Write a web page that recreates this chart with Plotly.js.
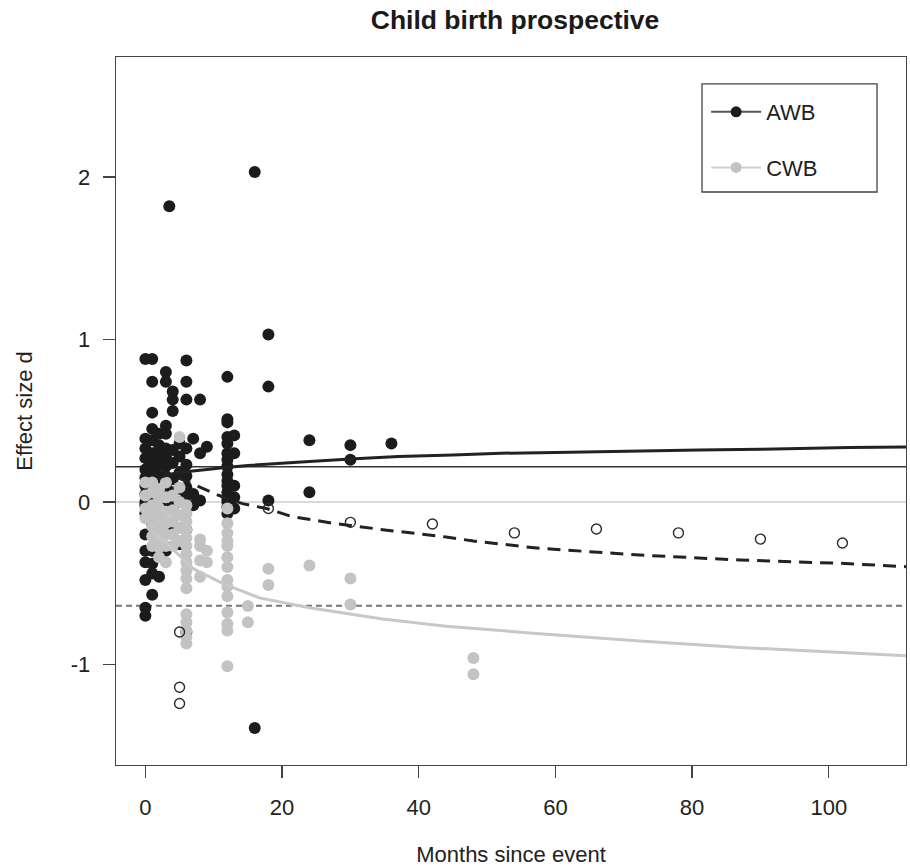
<!DOCTYPE html>
<html>
<head>
<meta charset="utf-8">
<script src="https://cdn.plot.ly/plotly-3.0.1.min.js"></script>
<style>html,body{margin:0;padding:0;background:#fff;}#chart{width:910px;height:867px;}</style>
</head>
<body>
<div id="chart"></div>
<script>
// ---- AWB (filled black) points ----
var awbMonths = [
  0,0,0,0,0,0,0,0,0,0,0,0,0,0,0,0,0,
  1,1,1,1,1,1,1,1,1,1,1,1,1,1,1,1,
  2,2,2,2,2,2,2,2,2,2,2,2,2,
  3.5,3,3,3,3,3,3,3,3,3,3,3,3,
  4,4,4,4,4,4,4,4,4,
  5,5,5,5,5,5,
  6,6,6,6,6,6,6,6,6,6,
  7,7,7,
  8,8,8,
  9,
  12,12,12,12,12,12,12,12,12,12,12,12,12,12,12,12,
  13,13,13,13,13,
  16,16,
  18,18,18,
  24,24,
  30,30,
  36
];
var awbEffect = [
  0.88,0.39,0.33,0.27,0.20,0.15,0.10,0.05,0.00,-0.02,-0.07,-0.20,-0.30,-0.37,-0.48,-0.65,-0.70,
  0.88,0.74,0.55,0.45,0.38,0.30,0.24,0.18,0.12,0.06,0.00,-0.13,-0.30,-0.38,-0.44,-0.57,
  0.42,0.35,0.30,0.26,0.22,0.17,0.12,0.05,-0.02,-0.10,-0.22,-0.29,-0.46,
  1.82,0.80,0.74,0.47,0.42,0.33,0.28,0.22,0.16,0.10,0.04,-0.04,-0.30,
  0.68,0.63,0.56,0.32,0.24,0.14,0.06,-0.03,-0.18,
  0.36,0.28,0.18,0.08,0.00,-0.26,
  0.87,0.74,0.63,0.33,0.23,0.16,0.09,0.04,-0.17,-0.80,
  0.39,0.05,-0.02,
  0.63,0.30,0.01,
  0.34,
  0.77,0.51,0.49,0.40,0.36,0.30,0.26,0.22,0.17,0.13,0.10,0.06,0.02,0.00,-0.03,-0.07,
  0.41,0.30,0.10,0.03,-0.04,
  2.03,-1.39,
  1.03,0.71,0.01,
  0.38,0.06,
  0.35,0.26,
  0.36
];

// ---- CWB (filled grey) points ----
var cwbMonths = [
  0,0,0,0,
  1,1,1,1,1,1,1,
  2,2,2,2,2,2,2,2,
  3,3,3,3,3,3,3,
  4,4,4,4,4,
  5,5,5,5,5,5,
  6,6,6,6,6,6,6,6,6,6,6,6,6,6,6,6,
  8,8,8,8,
  9,9,
  12,12,12,12,12,12,12,12,12,12,12,12,12,12,
  15,15,
  18,18,
  24,
  30,30,
  48,48
];
var cwbEffect = [
  0.12,0.04,-0.04,-0.10,
  0.12,0.06,-0.02,-0.08,-0.15,-0.21,-0.27,
  0.08,0.02,-0.04,-0.10,-0.16,-0.22,-0.28,-0.34,
  0.12,0.03,-0.06,-0.13,-0.20,-0.27,-0.37,
  0.04,-0.05,-0.12,-0.20,-0.27,
  0.40,0.09,0.00,-0.08,-0.16,-0.24,
  -0.02,-0.07,-0.12,-0.17,-0.22,-0.27,-0.32,-0.37,-0.42,-0.47,-0.53,-0.69,-0.74,-0.79,-0.83,-0.87,
  -0.23,-0.27,-0.36,-0.46,
  -0.30,-0.37,
  -0.04,-0.13,-0.19,-0.24,-0.27,-0.34,-0.40,-0.48,-0.52,-0.58,-0.68,-0.75,-0.79,-1.01,
  -0.64,-0.74,
  -0.41,-0.51,
  -0.39,
  -0.47,-0.63,
  -0.96,-1.06
];

// ---- open circles ----
var openMonths = [5,5,5,18,30,42,54,66,78,90,102];
var openEffect = [-0.80,-1.14,-1.24,-0.04,-0.125,-0.135,-0.19,-0.166,-0.19,-0.228,-0.252];

// ---- fitted curves ----
var awbFitMonths = [2,4.5,8,11,15,20,24,30,37,45,52,60,66,75,81,90,96,103,111.3];
var awbFitEffect = [0.15,0.18,0.195,0.21,0.225,0.24,0.25,0.265,0.28,0.29,0.30,0.305,0.31,0.315,0.32,0.325,0.33,0.335,0.338];

var awbDashMonths = [2,4.5,8,10.8,14.2,17.7,21.5,27.4,34.7,44,48,57.7,72.3,87,101.6,111.3];
var awbDashEffect = [0.20,0.155,0.09,0.04,-0.01,-0.04,-0.09,-0.13,-0.17,-0.215,-0.24,-0.285,-0.326,-0.357,-0.377,-0.398];

var cwbFitMonths = [1,3,7,11.3,16.7,24,34.7,44,57.7,72.3,87,101.6,111.3];
var cwbFitEffect = [-0.18,-0.25,-0.41,-0.50,-0.59,-0.65,-0.72,-0.765,-0.81,-0.855,-0.895,-0.928,-0.946];

// ---- horizontal reference lines ----
var refAwb = 0.217;
var refZero = 0;
var refDashed = -0.638;

// ---- axis ticks / labels ----
var xTicks = [0,20,40,60,80,100];
var xTickText = ['0','20','40','60','80','100'];
var yTicks = [-1,0,1,2];
var yTickText = ['-1','0','1','2'];
var seriesNames = ['AWB','CWB'];

var BLACK = '#1c1c1c', GREY = '#c3c3c3';
var FONT = 'Liberation Sans, Arial, Helvetica, sans-serif';

var traces = [
  {x: awbMonths, y: awbEffect, type: 'scatter', mode: 'markers', showlegend: false,
   marker: {color: BLACK, size: 12}},
  {x: cwbMonths, y: cwbEffect, type: 'scatter', mode: 'markers', showlegend: false,
   marker: {color: GREY, size: 12}},
  {x: openMonths, y: openEffect, type: 'scatter', mode: 'markers', showlegend: false,
   marker: {symbol: 'circle-open', color: '#2a2a2a', size: 10, line: {width: 1.4}}},
  {x: awbFitMonths, y: awbFitEffect, type: 'scatter', mode: 'lines', showlegend: false,
   line: {color: '#222', width: 3}},
  {x: awbDashMonths, y: awbDashEffect, type: 'scatter', mode: 'lines', showlegend: false,
   line: {color: '#222', width: 3, dash: '13px,8px'}},
  {x: cwbFitMonths, y: cwbFitEffect, type: 'scatter', mode: 'lines', showlegend: false,
   line: {color: '#c8c8c8', width: 3}},
  {x: [null], y: [null], type: 'scatter', mode: 'lines+markers', name: seriesNames[0],
   legendgroup: 'a', line: {color: '#555', width: 2}, marker: {color: BLACK, size: 11}},
  {x: [null], y: [null], type: 'scatter', mode: 'lines+markers', name: seriesNames[1],
   legendgroup: 'b', line: {color: '#d0d0d0', width: 2}, marker: {color: GREY, size: 11}}
];

var axisCommon = {
  showgrid: false, zeroline: false, showline: true, mirror: true,
  linecolor: '#444', linewidth: 1.3, ticks: 'outside', ticklen: 12, tickwidth: 1.3,
  tickcolor: '#444', tickfont: {family: FONT, size: 22, color: '#222'}
};

var layout = {
  width: 910, height: 867,
  margin: {l: 116, r: 4, t: 57, b: 102},
  paper_bgcolor: '#fff', plot_bgcolor: '#fff',
  font: {family: FONT, color: '#222'},
  title: {text: 'Child birth prospective', font: {family: FONT, size: 26.5, weight: 'bold', color: '#1a1a1a'},
          x: 0.566, xanchor: 'center', y: 0.977, yanchor: 'middle'},
  xaxis: Object.assign({}, axisCommon, {
    range: [-4.3, 111.3], tickmode: 'array', tickvals: xTicks, ticktext: xTickText, ticklabelstandoff: 10,
    title: {text: 'Months since event', font: {family: FONT, size: 22, color: '#222'}, standoff: 32}
  }),
  yaxis: Object.assign({}, axisCommon, {
    range: [-1.618, 2.738], tickmode: 'array', tickvals: yTicks, ticktext: yTickText, ticklabelstandoff: 8,
    title: {text: 'Effect size d', font: {family: FONT, size: 22, color: '#222'}, standoff: 32}
  }),
  legend: {
    x: 0.747, y: 0.952, xanchor: 'left', yanchor: 'top',
    borderwidth: 0, bgcolor: 'rgba(0,0,0,0)',
    font: {family: FONT, size: 22, color: '#222'},
    itemwidth: 50, tracegroupgap: 24, traceorder: 'grouped'
  },
  shapes: [
    {type: 'line', xref: 'paper', x0: 0, x1: 1, yref: 'y', y0: refAwb, y1: refAwb,
     line: {color: '#333', width: 1.3}, layer: 'below'},
    {type: 'line', xref: 'paper', x0: 0, x1: 1, yref: 'y', y0: refZero, y1: refZero,
     line: {color: '#cccccc', width: 1.5}, layer: 'below'},
    {type: 'line', xref: 'paper', x0: 0, x1: 1, yref: 'y', y0: refDashed, y1: refDashed,
     line: {color: '#777', width: 2, dash: '6px,4px'}, layer: 'below'},
    {type: 'rect', xref: 'paper', yref: 'paper', x0: 0.7418, x1: 0.9633, y0: 0.8093, y1: 0.9619,
     line: {color: '#444', width: 1.3}, fillcolor: '#fff', layer: 'above'}
  ]
};

Plotly.newPlot('chart', traces, layout, {displayModeBar: false, staticPlot: true});
</script>
</body>
</html>
